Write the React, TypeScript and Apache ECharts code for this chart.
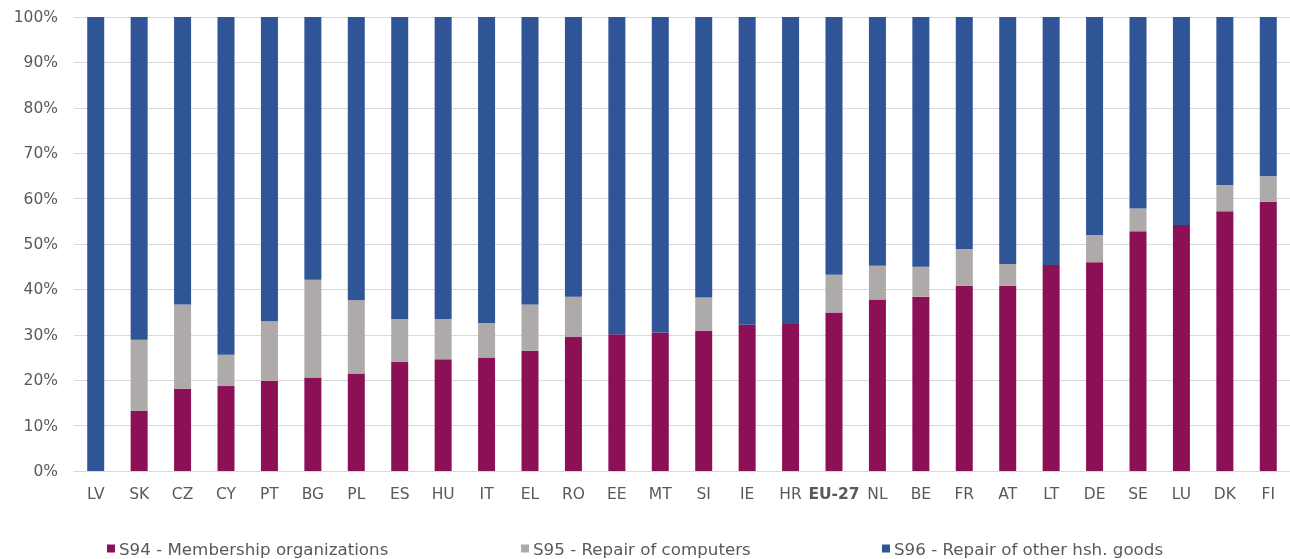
import React, { useEffect, useRef } from "react";
import * as echarts from "echarts";

const categories = ["LV","SK","CZ","CY","PT","BG","PL","ES","HU","IT","EL","RO","EE","MT","SI","IE","HR","EU-27","NL","BE","FR","AT","LT","DE","SE","LU","DK","FI"];
const s94 = [0,13.2,18.1,18.7,19.9,20.6,21.5,24.0,24.6,25.0,26.5,29.5,30.1,30.5,30.9,32.2,32.4,34.9,37.8,38.4,40.8,40.8,45.4,46.0,52.8,54.2,57.2,59.3];
const s95 = [0,15.7,18.6,6.9,13.1,21.5,16.1,9.5,8.9,7.6,10.2,8.9,0,0,7.3,0,0,8.3,7.4,6.6,8.1,4.8,0,6.0,5.0,0,5.8,5.6];
const s96 = s94.map((v, i) => Math.round((100 - v - s95[i]) * 10) / 10);
const seriesNames = ["S94 - Membership organizations","S95 - Repair of computers","S96 - Repair of other hsh. goods"];
const colors = ["#8c1055","#aeaaaa","#2f5597"];
const yTicks = [0,10,20,30,40,50,60,70,80,90,100];

export default function App() {
  const ref = useRef<HTMLDivElement>(null);
  useEffect(() => {
    const chart = echarts.init(ref.current!, undefined, { renderer: "svg" });
    const font = "DejaVu Sans, Verdana, sans-serif";
    const data = [s94, s95, s96];
    const legendLefts = [107, 521, 882];
    chart.setOption({
      animation: false,
      textStyle: { fontFamily: font },
      grid: { left: 74, right: 0, top: 17, bottom: 88, containLabel: false },
      legend: seriesNames.map((n, i) => ({
        data: [n],
        left: legendLefts[i],
        top: 540,
        padding: 0,
        itemWidth: 8,
        itemHeight: 8,
        itemGap: 4,
        icon: "rect",
        textStyle: { fontFamily: font, fontSize: 16.7, color: "#595959", padding: [0, 0, 0, -1] },
      })),
      xAxis: {
        type: "category",
        data: categories,
        axisLine: { lineStyle: { color: "#d9d9d9", width: 1 } },
        axisTick: { show: false },
        axisLabel: {
          interval: 0,
          margin: 15,
          fontSize: 15.5,
          color: "#595959",
          fontFamily: font,
          formatter: (v: string) => (v === "EU-27" ? "{b|" + v + "}" : v),
          rich: { b: { fontWeight: "bold", fontSize: 15.5, color: "#595959", fontFamily: font } },
        },
      },
      yAxis: {
        type: "value",
        min: yTicks[0],
        max: yTicks[yTicks.length - 1],
        interval: 10,
        axisLine: { show: false },
        axisTick: { show: false },
        splitLine: { lineStyle: { color: "#d9d9d9", width: 1 } },
        axisLabel: { formatter: "{value}%", fontSize: 15.5, color: "#595959", margin: 16, fontFamily: font },
      },
      series: seriesNames.map((n, i) => ({
        name: n,
        type: "bar",
        stack: "total",
        barWidth: 17,
        itemStyle: { color: colors[i] },
        data: data[i],
      })),
    });
    return () => chart.dispose();
  }, []);
  return <div ref={ref} style={{ position: "fixed", left: 0, top: 0, width: 1290, height: 559 }} />;
}
